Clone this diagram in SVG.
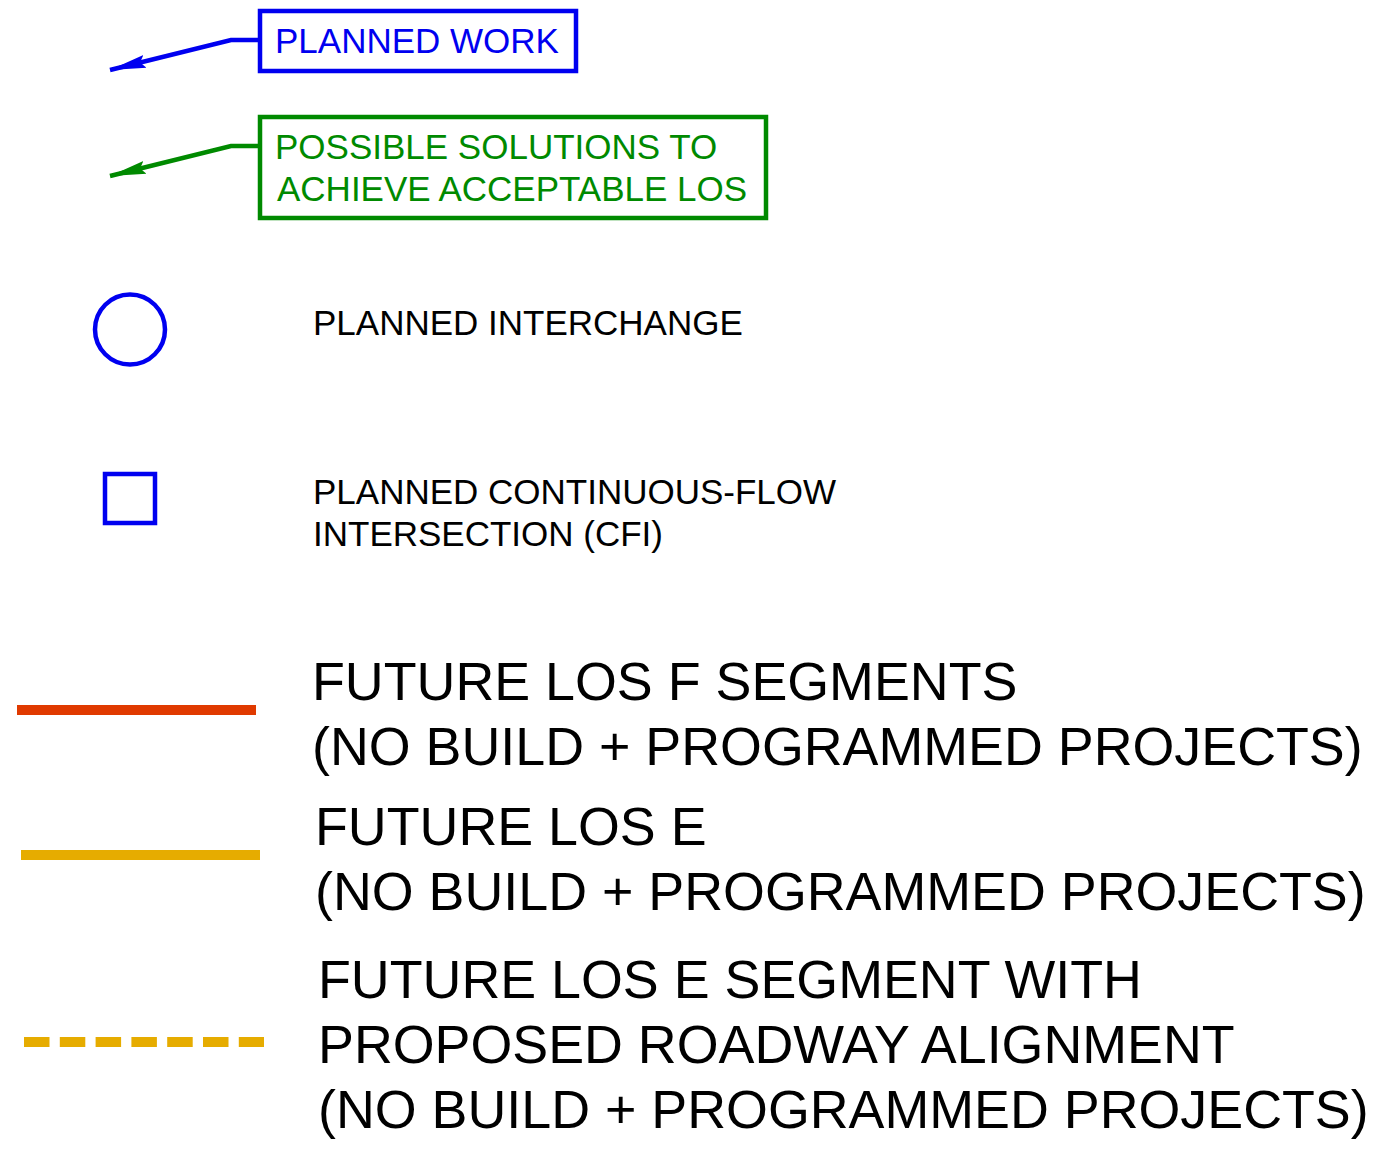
<svg xmlns="http://www.w3.org/2000/svg" width="1373" height="1156" viewBox="0 0 1373 1156">
  <style>
    .t { font-family: "Liberation Sans", Arial, sans-serif; }
    .s { font-size: 35px; }
    .b { font-size: 53.8px; fill: #000; }
    .blue { stroke: #0000F0; fill: none; stroke-width: 4.5; }
    .green { stroke: #008A00; fill: none; stroke-width: 4.5; }
  </style>
  <defs>
    <marker id="ahBlue" markerUnits="userSpaceOnUse" markerWidth="40" markerHeight="16" refX="36" refY="6.5" orient="auto" viewBox="0 0 40 13">
      <path d="M36,6.5 L0,0 L5,6.5 L0,13 Z" fill="#0000F0"/>
    </marker>
    <marker id="ahGreen" markerUnits="userSpaceOnUse" markerWidth="40" markerHeight="16" refX="36" refY="6.5" orient="auto" viewBox="0 0 40 13">
      <path d="M36,6.5 L0,0 L5,6.5 L0,13 Z" fill="#008A00"/>
    </marker>
  </defs>
  <rect width="1373" height="1156" fill="#fff"/>

  <g id="connectors">
    <polyline class="blue" points="259,40 231,40 110,70" stroke-width="4" marker-end="url(#ahBlue)"/>
    <polyline class="green" points="259,146 231,146 110,176" stroke-width="4" marker-end="url(#ahGreen)"/>
  </g>

  <g id="planned-work">
    <rect class="blue" x="260" y="11" width="316" height="60"/>
    <text class="t s" x="275" y="53" fill="#0000F0">PLANNED WORK</text>
  </g>

  <g id="possible-solutions">
    <rect class="green" x="260" y="117" width="506" height="101"/>
    <text class="t s" x="275" y="159" fill="#008A00">POSSIBLE SOLUTIONS TO</text>
    <text class="t s" x="277" y="201" fill="#008A00">ACHIEVE ACCEPTABLE LOS</text>
  </g>

  <g id="planned-interchange">
    <circle class="blue" cx="130" cy="329.5" r="35"/>
    <text class="t s" x="313" y="335" fill="#000">PLANNED INTERCHANGE</text>
  </g>

  <g id="planned-cfi">
    <rect class="blue" x="105" y="474" width="50" height="49"/>
    <text class="t s" x="313" y="504" fill="#000">PLANNED CONTINUOUS-FLOW</text>
    <text class="t s" x="313" y="546" fill="#000">INTERSECTION (CFI)</text>
  </g>

  <g id="los-f">
    <line x1="17" y1="710" x2="256" y2="710" stroke="#E03A00" stroke-width="10"/>
    <text class="t b" x="312" y="700">FUTURE LOS F SEGMENTS</text>
    <text class="t b" x="312" y="765">(NO BUILD + PROGRAMMED PROJECTS)</text>
  </g>

  <g id="los-e">
    <line x1="21" y1="855" x2="260" y2="855" stroke="#E6AC00" stroke-width="10"/>
    <text class="t b" x="315" y="845">FUTURE LOS E</text>
    <text class="t b" x="315" y="910">(NO BUILD + PROGRAMMED PROJECTS)</text>
  </g>

  <g id="los-e-proposed">
    <line x1="24" y1="1042" x2="264" y2="1042" stroke="#E6AC00" stroke-width="10" stroke-dasharray="25.5 10.3"/>
    <text class="t b" x="318" y="998">FUTURE LOS E SEGMENT WITH</text>
    <text class="t b" x="318" y="1063">PROPOSED ROADWAY ALIGNMENT</text>
    <text class="t b" x="318" y="1128">(NO BUILD + PROGRAMMED PROJECTS)</text>
  </g>
</svg>
